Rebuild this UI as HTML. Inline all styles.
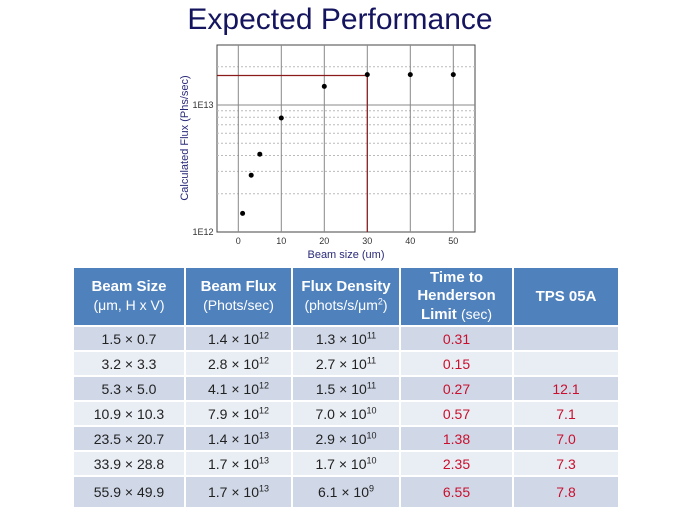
<!DOCTYPE html>
<html><head><meta charset="utf-8"><style>
body{margin:0;width:680px;height:510px;background:#fff;position:relative;overflow:hidden;font-family:"Liberation Sans",Arial,sans-serif}
.t{position:absolute;left:0;width:680px;text-align:center;top:3px;font-size:30px;color:#14145f}
table{position:absolute;left:72px;top:266px;border-collapse:collapse;table-layout:fixed}
td,th{border:2px solid #fff;text-align:center;padding:0;font-size:14px;color:#222}
th{background:#4f81bd;color:#fff;font-size:15px;font-weight:bold;line-height:18px;height:57px}
th span{font-weight:normal;font-size:14px}
tr:nth-child(even) td{background:#d0d8e8}
tr:nth-child(odd) td{background:#e9edf4}
td{height:23px}
.r{color:#c8102e}
sup{font-size:9px;line-height:0}
</style></head><body>
<div class="t">Expected Performance</div>
<svg width="680" height="262" style="position:absolute;left:0;top:0" font-family="Liberation Sans,Arial,sans-serif">
<rect x="217" y="45" width="258" height="187" fill="#fff" stroke="#444" stroke-width="1"/>
<g stroke="#bbb" stroke-dasharray="2,2" stroke-width="1">
<line x1="217" x2="475" y1="193.8" y2="193.8"/><line x1="217" x2="475" y1="171.4" y2="171.4"/>
<line x1="217" x2="475" y1="155.5" y2="155.5"/><line x1="217" x2="475" y1="143.2" y2="143.2"/>
<line x1="217" x2="475" y1="133.2" y2="133.2"/><line x1="217" x2="475" y1="124.7" y2="124.7"/>
<line x1="217" x2="475" y1="117.3" y2="117.3"/><line x1="217" x2="475" y1="110.8" y2="110.8"/>
<line x1="217" x2="475" y1="66.8" y2="66.8"/>
</g>
<line x1="217" x2="475" y1="105" y2="105" stroke="#888"/>
<g stroke="#888">
<line x1="238.3" x2="238.3" y1="45" y2="232"/><line x1="281.3" x2="281.3" y1="45" y2="232"/>
<line x1="324.3" x2="324.3" y1="45" y2="232"/><line x1="367.3" x2="367.3" y1="45" y2="232"/>
<line x1="410.3" x2="410.3" y1="45" y2="232"/><line x1="453.3" x2="453.3" y1="45" y2="232"/>
</g>
<g stroke="#8b1a1a" stroke-width="1.2"><line x1="217" x2="367.3" y1="75.5" y2="75.5"/><line x1="367.3" x2="367.3" y1="75.5" y2="232"/></g>
<g fill="#000">
<circle cx="242.6" cy="213.4" r="2.5"/><circle cx="251.2" cy="175.2" r="2.5"/><circle cx="259.8" cy="154.2" r="2.5"/>
<circle cx="281.3" cy="118" r="2.5"/><circle cx="324.3" cy="86.4" r="2.5"/><circle cx="367.3" cy="74.6" r="2.5"/>
<circle cx="410.3" cy="74.6" r="2.5"/><circle cx="453.3" cy="74.6" r="2.5"/>
</g>
<g font-size="9" fill="#333" text-anchor="middle">
<text x="238.3" y="244">0</text><text x="281.3" y="244">10</text><text x="324.3" y="244">20</text>
<text x="367.3" y="244">30</text><text x="410.3" y="244">40</text><text x="453.3" y="244">50</text>
<text x="203" y="108">1E13</text><text x="203" y="235">1E12</text>
</g>
<text x="346" y="258" font-size="11" fill="#2a2a7a" text-anchor="middle">Beam size (um)</text>
<text transform="translate(188,138) rotate(-90)" font-size="11" fill="#2a2a7a" text-anchor="middle">Calculated Flux (Phs/sec)</text>
</svg>
<table>
<colgroup><col style="width:112px"><col style="width:107px"><col style="width:108px"><col style="width:113px"><col style="width:106px"></colgroup>
<tr><th>Beam Size<br><span>(μm, H x V)</span></th><th>Beam Flux<br><span>(Phots/sec)</span></th><th>Flux Density<br><span>(phots/s/μm<sup>2</sup>)</span></th><th>Time to<br>Henderson<br>Limit <span>(sec)</span></th><th>TPS 05A</th></tr>
<tr><td>1.5 × 0.7</td><td>1.4 × 10<sup>12</sup></td><td>1.3 × 10<sup>11</sup></td><td class="r">0.31</td><td></td></tr>
<tr><td>3.2 × 3.3</td><td>2.8 × 10<sup>12</sup></td><td>2.7 × 10<sup>11</sup></td><td class="r">0.15</td><td></td></tr>
<tr><td>5.3 × 5.0</td><td>4.1 × 10<sup>12</sup></td><td>1.5 × 10<sup>11</sup></td><td class="r">0.27</td><td class="r">12.1</td></tr>
<tr><td>10.9 × 10.3</td><td>7.9 × 10<sup>12</sup></td><td>7.0 × 10<sup>10</sup></td><td class="r">0.57</td><td class="r">7.1</td></tr>
<tr><td>23.5 × 20.7</td><td>1.4 × 10<sup>13</sup></td><td>2.9 × 10<sup>10</sup></td><td class="r">1.38</td><td class="r">7.0</td></tr>
<tr><td>33.9 × 28.8</td><td>1.7 × 10<sup>13</sup></td><td>1.7 × 10<sup>10</sup></td><td class="r">2.35</td><td class="r">7.3</td></tr>
<tr><td style="height:30px">55.9 × 49.9</td><td>1.7 × 10<sup>13</sup></td><td>6.1 × 10<sup>9</sup></td><td class="r">6.55</td><td class="r">7.8</td></tr>
</table>
</body></html>
